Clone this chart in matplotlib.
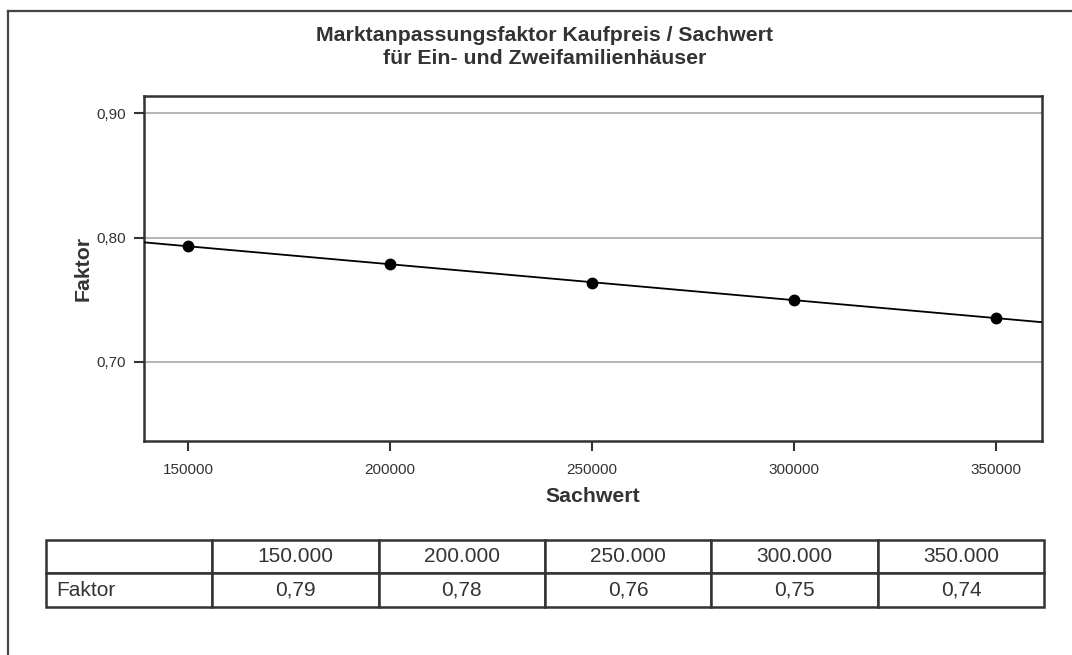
import matplotlib
matplotlib.use("Agg")
import matplotlib.pyplot as plt
import numpy as np
from matplotlib.ticker import FuncFormatter
from matplotlib.lines import Line2D

plt.rcParams['font.family'] = ['Liberation Sans', 'DejaVu Sans']

# data
sachwert = [150000, 200000, 250000, 300000, 350000]
faktor = [0.7928, 0.7791, 0.7635, 0.7498, 0.7353]
table_faktor = [0.79, 0.78, 0.76, 0.75, 0.74]
y_ticks = [0.70, 0.80, 0.90]

title = "Marktanpassungsfaktor Kaufpreis / Sachwert\nfür Ein- und Zweifamilienhäuser"
txt = '#333333'
W, H = 1072, 655

fig = plt.figure(figsize=(W / 100, H / 100), dpi=100)

# outer frame (only top and left edge visible in the crop)
fig.add_artist(Line2D([7.5 / W, 7.5 / W], [0, 1 - 11 / H], transform=fig.transFigure, color='#444444', lw=1.6))
fig.add_artist(Line2D([7.5 / W, 1], [1 - 11 / H, 1 - 11 / H], transform=fig.transFigure, color='#444444', lw=1.6))

ax = fig.add_axes([144 / W, 1 - 441 / H, (1042 - 144) / W, (441 - 96) / H])
ax.set_xlim(139100, 361400)
ax.set_ylim(0.6365, 0.9137)

# regression line through the points, spanning the plot area
k, d = np.polyfit(sachwert, faktor, 1)
xl = np.array(ax.get_xlim())
ax.plot(xl, k * xl + d, color='black', lw=1.3, zorder=3)
ax.plot(sachwert, faktor, 'o', color='black', ms=7.5, zorder=4)

ax.set_yticks(y_ticks)
ax.set_xticks(sachwert)
ax.yaxis.set_major_formatter(FuncFormatter(lambda v, p: f"{v:.2f}".replace('.', ',')))
ax.xaxis.set_major_formatter(FuncFormatter(lambda v, p: f"{int(v)}"))
ax.grid(axis='y', color='#b4b4b4', lw=1.4)
ax.set_axisbelow(True)
for s in ax.spines.values():
    s.set_color('#333333')
    s.set_linewidth(1.8)
ax.tick_params(direction='out', length=7, width=1.5, color='#333333', labelcolor=txt,
               labelsize=11, pad=6)
ax.tick_params(axis='x', pad=9)

ax.set_xlabel("Sachwert", fontsize=15.3, fontweight='bold', color=txt, labelpad=7)
ax.set_ylabel("Faktor", fontsize=15.3, fontweight='bold', color=txt, labelpad=3)

fig.text(545 / W, 1 - 47 / H, title, ha='center', va='center', fontsize=15.3,
         fontweight='bold', color=txt, linespacing=1.22)

# value table below the chart
tax = fig.add_axes([45.7 / W, 1 - 606.7 / H, (1044.3 - 45.7) / W, (606.7 - 540) / H])
tax.axis('off')
header = [''] + [f"{x:,}".replace(',', '.') for x in sachwert]
row = ['Faktor'] + [f"{v:.2f}".replace('.', ',') for v in table_faktor]
tbl = tax.table(cellText=[header, row], cellLoc='center', bbox=[0, 0, 1, 1])
tbl.auto_set_font_size(False)
for (r, c), cell in tbl.get_celld().items():
    cell.set_edgecolor('#333333')
    cell.set_linewidth(1.8)
    cell.get_text().set_fontsize(15)
    cell.get_text().set_color(txt)
    if r == 1 and c == 0:
        cell._loc = 'left'
        cell.PAD = 0.066
        cell.get_text().set_horizontalalignment('left')

fig.savefig("out.png", dpi=100)
